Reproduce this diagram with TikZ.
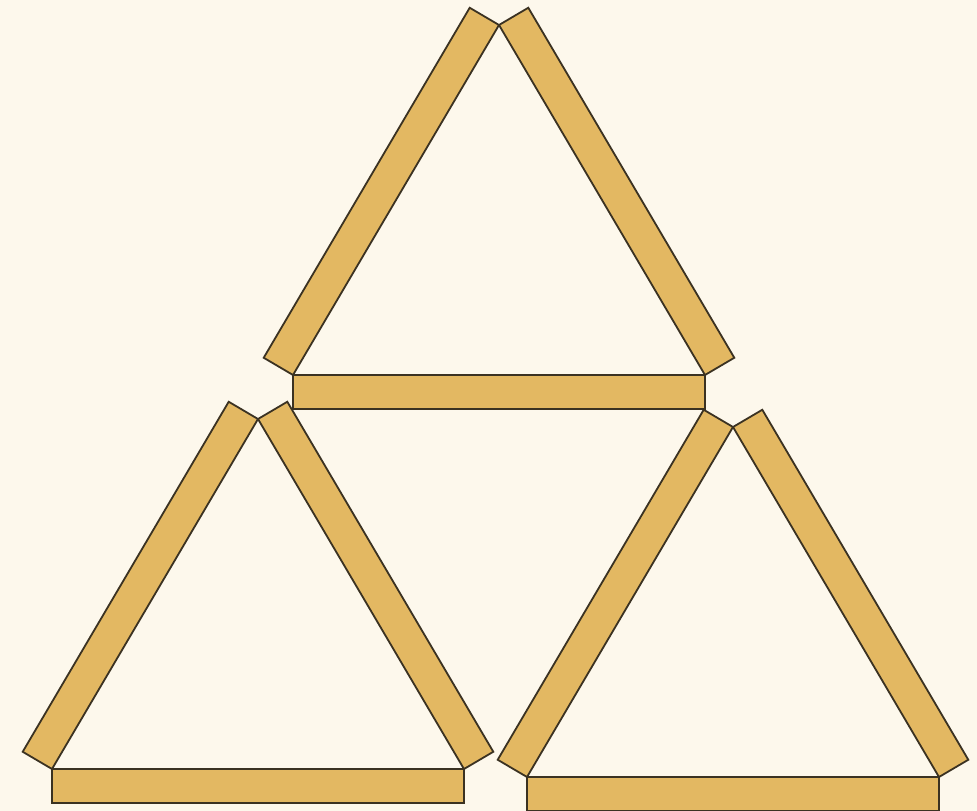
\documentclass[tikz,border=0pt]{standalone}
\usetikzlibrary{calc}
\definecolor{paper}{HTML}{FDF8EC}
\definecolor{matchwood}{HTML}{E3B862}
\definecolor{matchedge}{HTML}{3B3222}

% slanted stick: foot corner, apex corner, turn towards the outside
\newcommand{\slantstick}[3]{%
  \draw[matchstick] (#1) -- (#2) -- ($(#2)!34pt!-#3:(#1)$) -- ($(#1)!34pt!#3:(#2)$) -- cycle;}

\begin{document}
\begin{tikzpicture}[x=1pt, y=-1pt,
  matchstick/.style={fill=matchwood, draw=matchedge, line width=1.8pt, line join=miter}
]

% Background
\fill[paper] (0,0) rectangle (977,811);
\useasboundingbox (0,0) rectangle (977,811);

% Top triangle
\coordinate (topL) at (293,375);
\coordinate (topR) at (705,375);
\coordinate (topA) at (499,25);
\draw[matchstick] (topL) rectangle ($(topR)+(0,34)$);
\slantstick{topL}{topA}{90}
\slantstick{topR}{topA}{-90}

% Left triangle
\coordinate (leftL) at (52,769);
\coordinate (leftR) at (464,769);
\coordinate (leftA) at (258,419);
\draw[matchstick] (leftL) rectangle ($(leftR)+(0,34)$);
\slantstick{leftL}{leftA}{90}
\slantstick{leftR}{leftA}{-90}

% Right triangle
\coordinate (rightL) at (527,777);
\coordinate (rightR) at (939,777);
\coordinate (rightA) at (733,427);
\draw[matchstick] (rightL) rectangle ($(rightR)+(0,34)$);
\slantstick{rightL}{rightA}{90}
\slantstick{rightR}{rightA}{-90}

\end{tikzpicture}
\end{document}
